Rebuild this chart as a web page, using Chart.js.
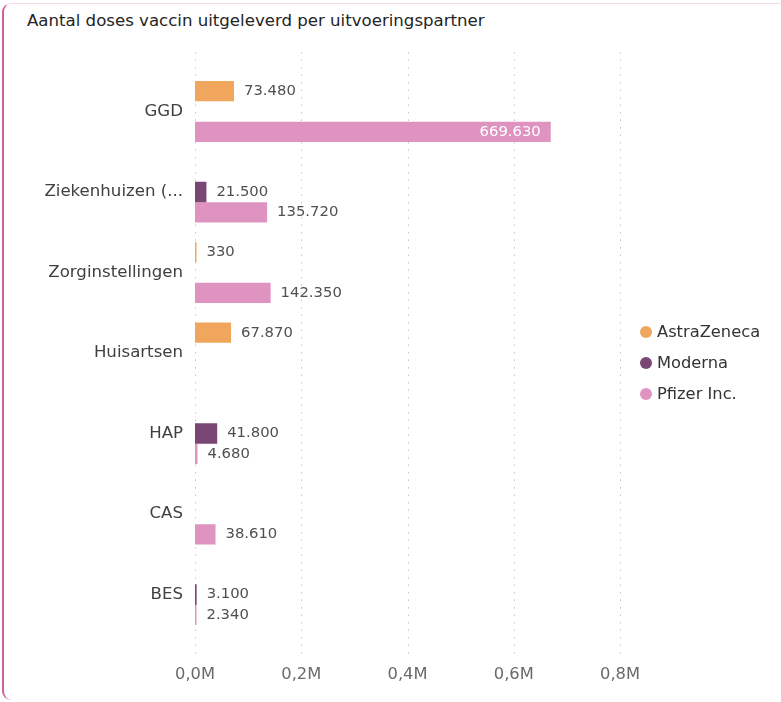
<!DOCTYPE html>
<html>
<head>
<meta charset="utf-8">
<script src="https://cdn.jsdelivr.net/npm/chart.js@4/dist/chart.umd.min.js"></script>
<style>
  body { margin: 0; background: #fff; }
  #wrap { position: relative; width: 781px; height: 702px; overflow: hidden; }
  #frame { position: absolute; left: 2px; top: 3px; width: 800px; height: 697px;
    border-left: 2px solid #c862a4; border-top: 1px solid #f3dcea;
    border-radius: 9px 0 0 9px; box-sizing: border-box; }
  #title { position: absolute; left: 27px; top: 11px; font: 16.6px "DejaVu Sans"; color: #252423; white-space: nowrap; }
  #chart { position: absolute; left: 0; top: 0; }
  #legend { position: absolute; left: 640px; top: 320px; font: 16.3px "DejaVu Sans"; color: #333; }
  #legend div { height: 31px; line-height: 24px; white-space: nowrap; }
  #legend span { display: inline-block; width: 12px; height: 12px; border-radius: 50%; margin-right: 5px; vertical-align: -1px; }
</style>
</head>
<body>
<div id="wrap">
  <div id="frame"></div>
  <div id="title">Aantal doses vaccin uitgeleverd per uitvoeringspartner</div>
  <canvas id="chart" width="781" height="702"></canvas>
  <div id="legend"></div>
</div>
<script>
const categories = ['GGD', 'Ziekenhuizen (...', 'Zorginstellingen', 'Huisartsen', 'HAP', 'CAS', 'BES'];
const astraZeneca = [73480, null, 330, 67870, null, null, null];
const moderna = [null, 21500, null, null, 41800, null, 3100];
const pfizer = [669630, 135720, 142350, null, 4680, 38610, 2340];
const seriesNames = ['AstraZeneca', 'Moderna', 'Pfizer Inc.'];
const seriesColors = ['#f0a65c', '#7a4673', '#de93c0'];
const xTicks = [0, 200000, 400000, 600000, 800000];

function fmtNum(v) {
  return String(v).replace(/\B(?=(\d{3})+(?!\d))/g, '.');
}

// legenda
const legend = document.getElementById('legend');
seriesNames.forEach((name, i) => {
  const row = document.createElement('div');
  row.innerHTML = '<span style="background:' + seriesColors[i] + '"></span>' + name;
  legend.appendChild(row);
});

// stippellijnen over de hele hoogte
const gridPlugin = {
  id: 'dotGrid',
  beforeDatasetsDraw(chart) {
    const c = chart.ctx, xs = chart.scales.x;
    c.save();
    c.strokeStyle = '#c9c9c9';
    c.lineWidth = 1;
    c.setLineDash([1.5, 6]);
    xTicks.forEach((t) => {
      const x = Math.round(xs.getPixelForValue(t)) + 0.5;
      c.beginPath();
      c.moveTo(x, 52);
      c.lineTo(x, 656);
      c.stroke();
    });
    c.restore();
  }
};

// waardelabels
const labelPlugin = {
  id: 'valueLabels',
  afterDatasetsDraw(chart) {
    const c = chart.ctx;
    c.save();
    c.font = '14.8px "DejaVu Sans"';
    c.textBaseline = 'middle';
    chart.data.datasets.forEach((ds, di) => {
      chart.getDatasetMeta(di).data.forEach((bar, i) => {
        const v = ds.data[i];
        if (v == null) return;
        const txt = fmtNum(v);
        const w = c.measureText(txt).width;
        const len = bar.x - bar.base;
        if (len > w + 24) {
          c.fillStyle = '#ffffff';
          c.textAlign = 'right';
          c.fillText(txt, bar.x - 10, bar.y);
        } else {
          c.fillStyle = '#505050';
          c.textAlign = 'left';
          c.fillText(txt, Math.max(bar.x, bar.base + 1) + 10, bar.y);
        }
      });
    });
    c.restore();
  }
};

new Chart(document.getElementById('chart'), {
  type: 'bar',
  data: {
    labels: categories,
    datasets: [
      { label: seriesNames[0], data: astraZeneca, backgroundColor: seriesColors[0] },
      { label: seriesNames[1], data: moderna, backgroundColor: seriesColors[1] },
      { label: seriesNames[2], data: pfizer, backgroundColor: seriesColors[2] },
    ],
  },
  options: {
    indexAxis: 'y',
    responsive: false,
    animation: false,
    categoryPercentage: 0.758,
    barPercentage: 1.0,
    minBarLength: 1.5,
    layout: { padding: { top: 71.25, right: 161, bottom: 0, left: 0 } },
    plugins: { legend: { display: false }, tooltip: { enabled: false } },
    scales: {
      x: {
        min: 0,
        max: 800000,
        afterBuildTicks: (s) => { s.ticks = xTicks.map((v) => ({ value: v })); },
        afterFit: (s) => { s.height = 67.25; },
        grid: { display: false, drawTicks: false },
        border: { display: false },
        ticks: {
          padding: 30,
          color: '#6a6a6a',
          font: { family: 'DejaVu Sans', size: 16.3 },
          callback: (v) => (v / 1e6).toFixed(1).replace('.', ',') + 'M',
        },
      },
      y: {
        afterFit: (s) => { s.width = 195; },
        grid: { display: false, drawTicks: false },
        border: { display: false },
        ticks: {
          padding: 12,
          color: '#404040',
          font: { family: 'DejaVu Sans', size: 16.6 },
        },
      },
    },
  },
  plugins: [gridPlugin, labelPlugin],
});
</script>
</body>
</html>
